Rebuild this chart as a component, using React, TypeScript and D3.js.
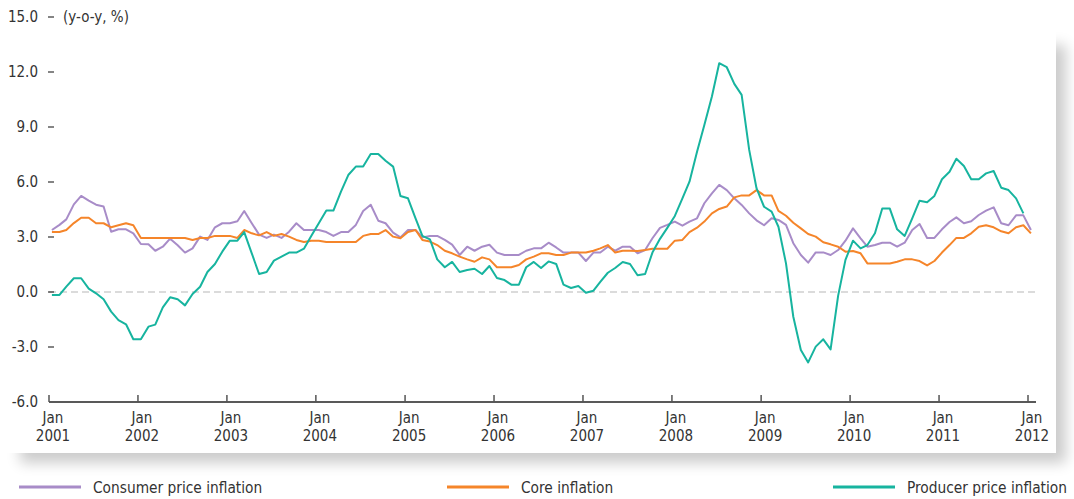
import React from "react";
import * as d3 from "d3";

const startYear = 2001;
const yearTicks = [2001, 2002, 2003, 2004, 2005, 2006, 2007, 2008, 2009, 2010, 2011, 2012];
const yTicks = [-6, -3, 0, 3, 6, 9, 12, 15];
const yTickLabels = ["-6.0", "-3.0", "0.0", "3.0", "6.0", "9.0", "12.0", "15.0"];
const unitLabel = "(y-o-y, %)";

const cpi = [
  3.38, 3.66, 3.96, 4.78, 5.24, 4.98, 4.76, 4.66, 3.29, 3.42, 3.42, 3.20,
  2.62, 2.60, 2.25, 2.47, 2.91, 2.55, 2.15, 2.38, 3.02, 2.84, 3.53, 3.75,
  3.75, 3.86, 4.42, 3.75, 3.13, 2.95, 3.13, 2.95, 3.29, 3.75, 3.38, 3.38,
  3.38, 3.27, 3.06, 3.27, 3.27, 3.66, 4.42, 4.76, 3.89, 3.75, 3.24, 2.98,
  3.38, 3.38, 2.98, 3.06, 3.06, 2.84, 2.58, 2.02, 2.47, 2.25, 2.47, 2.58,
  2.15, 2.02, 2.02, 2.02, 2.25, 2.38, 2.38, 2.69, 2.43, 2.15, 2.15, 2.15,
  1.69, 2.15, 2.15, 2.47, 2.25, 2.47, 2.47, 2.11, 2.29, 2.93, 3.50, 3.66,
  3.84, 3.62, 3.84, 4.02, 4.84, 5.38, 5.84, 5.56, 5.11, 4.75, 4.29, 3.91,
  3.64, 4.02, 3.93, 3.66, 2.66, 2.02, 1.60, 2.16, 2.16, 2.02, 2.29, 2.80,
  3.47, 2.93, 2.47, 2.56, 2.69, 2.69, 2.47, 2.69, 3.38, 3.71, 2.95, 2.95,
  3.42, 3.82, 4.07, 3.75, 3.86, 4.20, 4.44, 4.62, 3.75, 3.64, 4.18, 4.18,
  3.38,
];

const core = [
  3.27, 3.27, 3.38, 3.76, 4.05, 4.05, 3.75, 3.75, 3.53, 3.64, 3.75, 3.64,
  2.95, 2.95, 2.95, 2.95, 2.95, 2.95, 2.95, 2.84, 2.95, 2.95, 3.06, 3.06,
  3.06, 2.95, 3.38, 3.20, 3.09, 3.27, 3.06, 3.16, 3.02, 2.84, 2.73, 2.80,
  2.80, 2.73, 2.73, 2.73, 2.73, 2.73, 3.06, 3.16, 3.16, 3.38, 3.02, 2.93,
  3.27, 3.38, 2.84, 2.75, 2.56, 2.25, 2.11, 1.93, 1.78, 1.65, 1.89, 1.78,
  1.35, 1.35, 1.35, 1.47, 1.78, 1.93, 2.11, 2.11, 2.02, 2.02, 2.15, 2.15,
  2.15, 2.25, 2.38, 2.56, 2.15, 2.25, 2.25, 2.24, 2.29, 2.36, 2.36, 2.36,
  2.80, 2.84, 3.27, 3.51, 3.84, 4.29, 4.53, 4.66, 5.16, 5.27, 5.27, 5.56,
  5.27, 5.27, 4.42, 4.16, 3.78, 3.47, 3.16, 3.02, 2.71, 2.60, 2.47, 2.20,
  2.24, 2.11, 1.56, 1.56, 1.56, 1.56, 1.65, 1.78, 1.78, 1.69, 1.45, 1.69,
  2.15, 2.56, 2.95, 2.95, 3.20, 3.56, 3.64, 3.53, 3.31, 3.20, 3.53, 3.64,
  3.20,
];

const ppi = [
  -0.16, -0.16, 0.29, 0.75, 0.75, 0.18, -0.07, -0.40, -1.07, -1.53, -1.76, -2.58,
  -2.58, -1.89, -1.78, -0.84, -0.29, -0.40, -0.73, -0.11, 0.29, 1.09, 1.53, 2.20,
  2.80, 2.80, 3.27, 2.11, 0.98, 1.09, 1.71, 1.93, 2.15, 2.15, 2.36, 3.06,
  3.75, 4.44, 4.44, 5.47, 6.38, 6.84, 6.84, 7.53, 7.53, 7.16, 6.84, 5.24,
  5.11, 4.02, 3.06, 2.87, 1.78, 1.35, 1.64, 1.09, 1.20, 1.27, 0.98, 1.42,
  0.76, 0.65, 0.40, 0.40, 1.35, 1.64, 1.31, 1.67, 1.53, 0.40, 0.22, 0.33,
  -0.04, 0.07, 0.55, 1.05, 1.31, 1.64, 1.53, 0.91, 0.98, 2.15, 2.90, 3.50,
  4.15, 5.11, 6.02, 7.65, 9.11, 10.66, 12.48, 12.26, 11.35, 10.75, 7.75, 5.66,
  4.65, 4.38, 3.56, 1.56, -1.35, -3.16, -3.84, -2.98, -2.58, -3.13, -0.20, 1.75,
  2.80, 2.38, 2.56, 3.20, 4.55, 4.55, 3.42, 3.06, 4.02, 4.98, 4.89, 5.24,
  6.15, 6.56, 7.27, 6.87, 6.15, 6.15, 6.47, 6.60, 5.69, 5.56, 5.11, 4.29,
];

const seriesNames = ["Consumer price inflation", "Core inflation", "Producer price inflation"];
const seriesColors = ["#a88cc8", "#f5852a", "#17b49f"];
const seriesData = [cpi, core, ppi];

const FONT = "'DejaVu Sans Condensed', 'Liberation Sans Narrow', 'Roboto', sans-serif";

export default function App() {
  const W = 1074;
  const H = 499;
  const x = d3
    .scaleTime()
    .domain([new Date(2001, 0, 1), new Date(2012, 0, 1)])
    .range([49, 1028]);
  const y = d3.scaleLinear().domain([-6, 15]).range([402, 17]);

  const dateOf = (i: number) => new Date(startYear, i, 13);
  const line = d3
    .line<number>()
    .x((_, i) => x(dateOf(i)))
    .y((d) => y(d));

  const legendX = [19, 447, 833];

  return (
    <svg
      width={W}
      height={H}
      style={{ position: "absolute", left: 0, top: 0, background: "#fff" }}
      fontFamily={FONT}
    >
      <defs>
        <filter id="blur" x="-10%" y="-10%" width="120%" height="120%">
          <feGaussianBlur stdDeviation="7" />
        </filter>
      </defs>
      <rect x={20} y={45} width={1046} height={418} fill="#000" opacity={0.2} filter="url(#blur)" />
      <rect x={0} y={0} width={1056} height={453} fill="#fff" />

      {/* zero line */}
      <line x1={49} x2={1036} y1={y(0)} y2={y(0)} stroke="#b8b8b8" strokeWidth={1.2} strokeDasharray="7,4" />

      {/* y axis labels */}
      {yTicks.map((t, k) => (
        <g key={t}>
          <text x={38} y={y(t) + 5} textAnchor="end" fontSize={15} fill="#333">
            {yTickLabels[k]}
          </text>
          {t !== -6 && (
            <line x1={48} x2={54} y1={y(t)} y2={y(t)} stroke="#333" strokeWidth={1.2} />
          )}
        </g>
      ))}
      <text x={63} y={y(15) + 5} fontSize={15} fill="#333">
        {unitLabel}
      </text>

      {/* series */}
      {seriesData.map((s, k) => (
        <path key={k} d={line(s) || ""} fill="none" stroke={seriesColors[k]} strokeWidth={2} strokeLinejoin="round" />
      ))}

      {/* x axis */}
      <line x1={49} x2={1036} y1={402} y2={402} stroke="#222" strokeWidth={1.5} />
      {yearTicks.map((yr) => {
        const xx = x(new Date(yr, 0, 1));
        return (
          <g key={yr}>
            <line x1={xx} x2={xx} y1={395} y2={402} stroke="#555" strokeWidth={1.5} />
            <text x={xx + 4} y={423} textAnchor="middle" fontSize={15} fill="#333">
              Jan
            </text>
            <text x={xx + 4} y={441} textAnchor="middle" fontSize={15} fill="#333">
              {yr}
            </text>
          </g>
        );
      })}

      {/* legend */}
      {seriesNames.map((n, k) => (
        <g key={n}>
          <line x1={legendX[k]} x2={legendX[k] + 62} y1={487} y2={487} stroke={seriesColors[k]} strokeWidth={3} />
          <text x={legendX[k] + 74} y={493} fontSize={15.3} fill="#333">
            {n}
          </text>
        </g>
      ))}
    </svg>
  );
}
